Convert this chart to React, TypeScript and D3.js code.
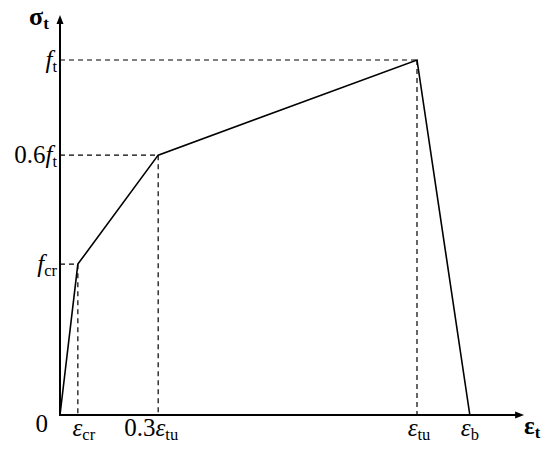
import * as d3 from 'd3'

const width = 550
const height = 449

// piecewise tensile stress-strain curve (normalised: etu = 1, ft = 1)
const pointNames = ['origin', 'crack', 'knee', 'peak', 'break']
const strainValues = [0, 0.05, 0.275, 1.0, 1.148]
const stressValues = [0, 0.425, 0.732, 1.0, 0]

// labels under the x axis: [main, subscript] for each point
const xTickMain = ['ε', '0.3ε', 'ε', 'ε']
const xTickSub = ['cr', 'tu', 'tu', 'b']
const xTickIndex = [1, 2, 3, 4]

// labels left of the y axis
const yTickMain = ['f', '0.6f', 'f']
const yTickSub = ['t', 't', 'cr']
const yTickIndex = [3, 2, 1]

const serif = '"Liberation Serif", "Times New Roman", serif'

const x = d3.scaleLinear().domain([0, 1]).range([60, 417])
const y = d3.scaleLinear().domain([0, 1]).range([415, 60])

const xMax = 1.3
const yMax = 1.127

// small horizontal nudges so labels sit like the original
const xLabelNudge = [6, -7, 2, 0]

const Label = ({ main, sub, italicMain = false, bold = false, ...rest }) => {
  // split "0.6f" into the number part and the symbol
  const m = main.match(/^([0-9.]*)(.*)$/)
  const num = m[1]
  const sym = m[2]
  return (
    <text fontFamily={serif} fontWeight={bold ? 'bold' : 'normal'} {...rest}>
      {num && <tspan>{num}</tspan>}
      <tspan fontStyle={italicMain ? 'italic' : 'normal'}>{sym}</tspan>
      <tspan fontSize={rest.fontSize * 0.66} dy={4}>
        {sub}
      </tspan>
    </text>
  )
}

export default function App() {
  const line = d3
    .line<number>()
    .x((_, i) => x(strainValues[i]))
    .y((_, i) => y(stressValues[i]))

  const x0 = x(0)
  const y0 = y(0)
  const xEnd = x(xMax)
  const yEnd = y(yMax)

  return (
    <svg
      width={width}
      height={height}
      style={{ position: 'absolute', left: 0, top: 0, background: 'white' }}
    >
      {/* dashed guides */}
      <g stroke="#000" strokeWidth={1.2} strokeDasharray="5,4" fill="none">
        {pointNames.slice(1, 4).map((name, k) => {
          const i = k + 1
          return (
            <g key={name}>
              <line x1={x0} x2={x(strainValues[i])} y1={y(stressValues[i])} y2={y(stressValues[i])} />
              <line x1={x(strainValues[i])} x2={x(strainValues[i])} y1={y(stressValues[i])} y2={y0} />
            </g>
          )
        })}
      </g>

      {/* curve */}
      <path
        d={line(strainValues)}
        fill="none"
        stroke="#000"
        strokeWidth={1.6}
        strokeLinejoin="miter"
      />

      {/* axes */}
      <g stroke="#000" strokeWidth={2}>
        <line x1={x0} x2={xEnd - 6} y1={y0} y2={y0} />
        <line x1={x0} x2={x0} y1={y0 + 1} y2={yEnd + 6} />
      </g>
      <path d={`M${xEnd},${y0} L${xEnd - 9},${y0 - 3.5} L${xEnd - 9},${y0 + 3.5} Z`} fill="#000" />
      <path d={`M${x0},${yEnd} L${x0 - 3.5},${yEnd + 9} L${x0 + 3.5},${yEnd + 9} Z`} fill="#000" />

      {/* axis titles */}
      <Label main="σ" sub="t" bold x={29} y={25} fontSize={26} />
      <Label main="ε" sub="t" bold x={524} y={434} fontSize={25} />

      {/* origin */}
      <text x={48} y={432} fontFamily={serif} fontSize={25} textAnchor="end">
        0
      </text>

      {/* x tick labels */}
      {xTickIndex.map((i, k) => (
        <Label
          key={k}
          main={xTickMain[k]}
          sub={xTickSub[k]}
          italicMain
          x={x(strainValues[i]) + xLabelNudge[k]}
          y={436}
          fontSize={25}
          textAnchor="middle"
        />
      ))}

      {/* y tick labels */}
      {yTickIndex.map((i, k) => (
        <Label
          key={k}
          main={yTickMain[k]}
          sub={yTickSub[k]}
          italicMain
          x={57}
          y={y(stressValues[i]) + 8}
          fontSize={25}
          textAnchor="end"
        />
      ))}
    </svg>
  )
}
